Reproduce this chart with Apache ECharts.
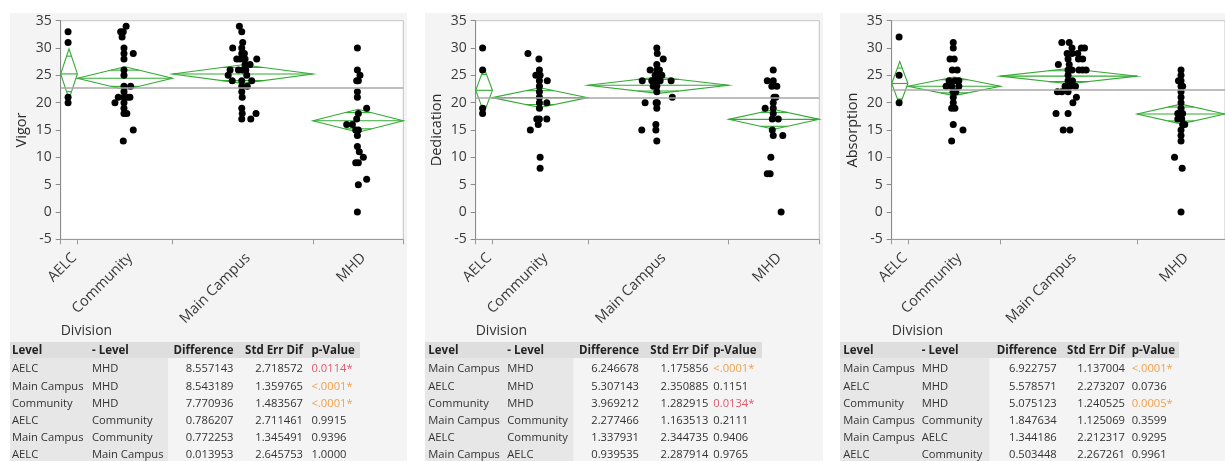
<!DOCTYPE html>
<html>
<head>
<meta charset="utf-8">
<script src="https://cdn.jsdelivr.net/npm/echarts@6/dist/echarts.min.js"></script>
<style>
html, body { margin: 0; padding: 0; background: #fff; }
#chart { width: 1225px; height: 461px; }
</style>
</head>
<body>
<div id="chart"></div>
<script>
// groups (x axis widths are proportional to group size, as in JMP)
var divisions = ['AELC', 'Community', 'Main Campus', 'MHD'];
var groupN = [7, 40, 59, 38];

// Vigor: means, 95% CI half widths, grand mean, points [group, jitter, value]
var vigorMeans = [25.26, 24.47, 25.24, 16.70];
var vigorCI = [4.6, 2.1, 1.7, 2.1];
var vigorGrandMean = 22.75;
var vigorPoints = [
  [0,-0.4,33],[0,-0.4,31],[0,-0.4,21],[0,-0.4,20],
  [1,0.5,34],[1,-1.8,33],[1,-0.7,33],[1,-1.2,32],[1,-0.4,30],[1,-0.4,29],[1,3.5,29],[1,-0.4,28],
  [1,-0.4,26],[1,-0.4,25],[1,-0.4,23],[1,2.4,23],[1,-0.4,22],[1,-2.8,21],[1,-0.4,21],[1,1,21],
  [1,2.1,21],[1,-4.2,20],[1,-0.4,20],[1,-0.4,19],[1,-0.4,18],[1,0.8,18],[1,3.5,15],[1,-0.7,13],
  [2,-1.4,34],[2,-0.4,33],[2,0,31],[2,-4.2,30],[2,-0.4,30],[2,-0.4,29],[2,0.7,29],[2,-2.5,28],
  [2,-1.1,28],[2,1,28],[2,5.9,28],[2,1,27],[2,3.1,27],[2,-5.3,26],[2,-1.8,26],[2,0,26],[2,1.3,26],
  [2,-6.1,25],[2,1.7,25],[2,-4.4,24],[2,-0.4,24],[2,3.8,24],[2,-0.4,23],[2,1.9,23],[2,-0.4,22],
  [2,-0.2,21],[2,-0.4,19],[2,-0.2,18],[2,5.6,18],[2,-0.4,17],[2,3.4,17],
  [3,-0.3,30],[3,-0.3,26],[3,0.8,25],[3,-0.6,24],[3,0.1,24],[3,-0.3,22],[3,-0.3,21],[3,3.6,19],
  [3,0.1,18],[3,-0.6,17],[3,-4.8,16],[3,-2.4,16],[3,-1,15],[3,0.1,15],[3,-0.3,14],[3,-0.3,12],
  [3,0.5,11],[3,2.2,10],[3,-1,9],[3,0.1,9],[3,3.6,6],[3,0.1,5],[3,-0.3,0]
];

// Dedication
var dedicationMeans = [22.26, 20.92, 23.20, 16.95];
var dedicationCI = [4.1, 1.8, 1.5, 1.8];
var dedicationGrandMean = 20.88;
var dedicationPoints = [
  [0,-0.6,30],[0,-0.6,26],[0,-0.6,19],[0,-0.6,18],
  [1,-5.1,29],[1,-0.5,28],[1,-0.3,26],[1,-1.8,25],[1,0,25],[1,-0.3,24],[1,3,24],[1,-0.3,23],
  [1,-0.3,22],[1,-0.3,21],[1,-0.3,20],[1,2.8,20],[1,-0.3,19],[1,-1.4,17],[1,-0.3,17],[1,2.8,17],
  [1,-0.8,16],[1,-4.1,15],[1,0,10],[1,0,8],
  [2,-0.6,30],[2,-0.4,29],[2,2.1,28],[2,-0.6,27],[2,-3.4,26],[2,-0.6,26],[2,0.5,26],[2,-1.3,25],
  [2,0.8,25],[2,1.5,25],[2,-6.7,24],[2,-2.7,24],[2,-0.9,24],[2,0.8,24],[2,5.4,24],[2,-2.1,23],
  [2,-0.6,23],[2,-0.6,22],[2,5.9,21],[2,-5.5,20],[2,-0.9,20],[2,-0.4,20],[2,-0.6,19],[2,-1,16],
  [2,-6.9,15],[2,-1,15],[2,-0.6,13],
  [3,-0.3,26],[3,-2.8,24],[3,-0.3,24],[3,-0.9,23],[3,1.2,23],[3,0,21],[3,0.8,21],[3,-0.3,20],
  [3,-3.7,19],[3,-0.3,19],[3,-0.3,18],[3,-0.7,17],[3,1.8,17],[3,-0.7,15],[3,-0.3,14],[3,3.7,14],
  [3,-1.3,10],[3,-2.8,7],[3,-1.6,7],[3,3,0]
];

// Absorption
var absorptionMeans = [23.51, 23.00, 24.85, 17.93];
var absorptionCI = [4.0, 1.7, 1.4, 1.8];
var absorptionGrandMean = 22.45;
var absorptionPoints = [
  [0,-0.3,32],[0,-0.3,25],[0,-0.3,20],
  [1,-0.4,31],[1,-0.4,30],[1,-1.8,28],[1,0,28],[1,-0.8,26],[1,1.3,26],[1,-2.2,24],[1,0.3,24],
  [1,2,24],[1,-3.5,23],[1,-1.1,23],[1,2,23],[1,-0.5,22],[1,0.7,22],[1,-0.4,21],[1,-0.4,20],
  [1,-1.1,19],[1,0.3,19],[1,-0.4,16],[1,3.8,15],[1,-1.1,13],
  [2,-3,31],[2,0.2,31],[2,1.4,30],[2,5.4,30],[2,6.8,30],[2,-0.7,29],[2,1.4,29],[2,3.9,29],
  [2,-0.3,28],[2,4.2,28],[2,6,28],[2,-4.5,27],[2,0.2,27],[2,-0.3,26],[2,1.4,26],[2,4.4,26],
  [2,6,26],[2,7.5,26],[2,-0.3,25],[2,-0.3,24],[2,1.6,24],[2,-1.6,23],[2,0.5,23],[2,2.9,23],
  [2,-4.9,22],[2,-3,22],[2,-0.3,22],[2,3.3,21],[2,1.8,20],[2,-5.5,18],[2,-0.3,18],[2,-2.4,15],[2,0.5,15],
  [3,0,26],[3,0,25],[3,-1.1,24],[3,0,24],[3,0,23],[3,0.7,23],[3,0,22],[3,0,21],[3,0,20],[3,0,19],
  [3,-1.4,18],[3,0,18],[3,0.7,18],[3,-1.4,17],[3,0.3,17],[3,0.7,16],[3,1.6,16],[3,0,15],[3,0,14],
  [3,0,13],[3,-2.8,10],[3,0.5,8],[3,0,0]
];

// Tukey tables
var vigorLevel = ['AELC', 'Main Campus', 'Community', 'AELC', 'Main Campus', 'AELC'];
var vigorMinus = ['MHD', 'MHD', 'MHD', 'Community', 'Community', 'Main Campus'];
var vigorDiff = ['8.557143', '8.543189', '7.770936', '0.786207', '0.772253', '0.013953'];
var vigorSE = ['2.718572', '1.359765', '1.483567', '2.711461', '1.345491', '2.645753'];
var vigorP = ['0.0114*', '<.0001*', '<.0001*', '0.9915', '0.9396', '1.0000'];

var dedicationLevel = ['Main Campus', 'AELC', 'Community', 'Main Campus', 'AELC', 'Main Campus'];
var dedicationMinus = ['MHD', 'MHD', 'MHD', 'Community', 'Community', 'AELC'];
var dedicationDiff = ['6.246678', '5.307143', '3.969212', '2.277466', '1.337931', '0.939535'];
var dedicationSE = ['1.175856', '2.350885', '1.282915', '1.163513', '2.344735', '2.287914'];
var dedicationP = ['<.0001*', '0.1151', '0.0134*', '0.2111', '0.9406', '0.9765'];

var absorptionLevel = ['Main Campus', 'AELC', 'Community', 'Main Campus', 'Main Campus', 'AELC'];
var absorptionMinus = ['MHD', 'MHD', 'MHD', 'Community', 'AELC', 'Community'];
var absorptionDiff = ['6.922757', '5.578571', '5.075123', '1.847634', '1.344186', '0.503448'];
var absorptionSE = ['1.137004', '2.273207', '1.240525', '1.125069', '2.212317', '2.267261'];
var absorptionP = ['<.0001*', '0.0736', '0.0005*', '0.3599', '0.9295', '0.9961'];

var tableHeader = ['Level', '- Level', 'Difference', 'Std Err Dif', 'p-Value'];

var FONT = '"Open Sans", "Noto Sans", sans-serif';
var diamondColor = '#33aa33';

var panels = [
  { name: 'Vigor', means: vigorMeans, ci: vigorCI, grand: vigorGrandMean, points: vigorPoints,
    level: vigorLevel, minus: vigorMinus, diff: vigorDiff, se: vigorSE, p: vigorP,
    gridLeft: 60.7, gridWidth: 342.6, bgLeft: 10, bgWidth: 397,
    col: { level: 12, minus: 92, diffR: 233.5, seR: 303, pL: 311.5, headR: 360, levelR: 168 } },
  { name: 'Dedication', means: dedicationMeans, ci: dedicationCI, grand: dedicationGrandMean, points: dedicationPoints,
    level: dedicationLevel, minus: dedicationMinus, diff: dedicationDiff, se: dedicationSE, p: dedicationP,
    gridLeft: 475.7, gridWidth: 343.6, bgLeft: 425, bgWidth: 398,
    col: { level: 428.3, minus: 507.3, diffR: 639, seR: 708.3, pL: 713.3, headR: 762, levelR: 573.3 } },
  { name: 'Absorption', means: absorptionMeans, ci: absorptionCI, grand: absorptionGrandMean, points: absorptionPoints,
    level: absorptionLevel, minus: absorptionMinus, diff: absorptionDiff, se: absorptionSE, p: absorptionP,
    gridLeft: 891.7, gridWidth: 343, bgLeft: 840, bgWidth: 385,
    col: { level: 843.3, minus: 921.7, diffR: 1056.7, seR: 1125, pL: 1131.7, headR: 1179, levelR: 989.3 } }
];

var starts = [];
var total = 0;
groupN.forEach(function (n) { starts.push(total); total += n; });
var bounds = starts.concat([total]);
var centers = groupN.map(function (n, i) { return starts[i] + n / 2; });

function pColor(p) {
  var v = p.charAt(0) === '<' ? 0 : parseFloat(p);
  if (v < 0.01) return '#f0a04b';
  if (v < 0.05) return '#e2566e';
  return '#333';
}

function renderDiamond(params, api) {
  var x0 = api.value(0), x1 = api.value(1), m = api.value(2), ci = api.value(3);
  var xc = (x0 + x1) / 2;
  var L = api.coord([x0, m]), R = api.coord([x1, m]);
  var T = api.coord([xc, m + ci]), B = api.coord([xc, m - ci]);
  var h = ci / Math.SQRT2;
  var ow = (x1 - x0) / 2 * (1 - 1 / Math.SQRT2);
  var u1 = api.coord([xc - ow, m + h]), u2 = api.coord([xc + ow, m + h]);
  var d1 = api.coord([xc - ow, m - h]), d2 = api.coord([xc + ow, m - h]);
  var st = { stroke: diamondColor, fill: null, lineWidth: 1.1 };
  return {
    type: 'group',
    children: [
      { type: 'polygon', shape: { points: [L, T, R, B] }, style: st },
      { type: 'line', shape: { x1: L[0], y1: L[1], x2: R[0], y2: R[1] }, style: st },
      { type: 'line', shape: { x1: u1[0], y1: u1[1], x2: u2[0], y2: u2[1] }, style: st },
      { type: 'line', shape: { x1: d1[0], y1: d1[1], x2: d2[0], y2: d2[1] }, style: st }
    ]
  };
}

var grids = [], xAxes = [], yAxes = [], series = [], graphics = [];

panels.forEach(function (pn, i) {
  grids.push({
    left: pn.gridLeft, top: 20.7, width: pn.gridWidth, height: 218.6,
    show: true, backgroundColor: '#fff', borderColor: '#c4c4c4', borderWidth: 1
  });
  xAxes.push({
    type: 'value', gridIndex: i, min: 0, max: total,
    splitLine: { show: false },
    axisLine: { show: true, onZero: false, lineStyle: { color: '#9a9a9a', width: 1 } },
    axisTick: { show: true, customValues: bounds, length: 5, lineStyle: { color: '#9a9a9a' } },
    axisLabel: {
      customValues: centers, rotate: 45, margin: 11, verticalAlign: 'top',
      fontSize: 14.5, fontFamily: FONT, color: '#3a3a3a',
      formatter: function (v) {
        for (var k = 0; k < centers.length; k++) if (Math.abs(centers[k] - v) < 1e-6) return divisions[k];
        return '';
      }
    }
  });
  yAxes.push({
    type: 'value', gridIndex: i, min: -5, max: 35, interval: 5,
    name: pn.name, nameLocation: 'middle', nameGap: 31, nameRotate: 90,
    nameTextStyle: { fontSize: 14.5, fontFamily: FONT, color: '#2a2a2a' },
    splitLine: { show: false },
    axisLine: { show: true, onZero: false, lineStyle: { color: '#8a8a8a', width: 1 } },
    axisTick: { show: true, length: 5, lineStyle: { color: '#8a8a8a' } },
    axisLabel: { fontSize: 14, fontFamily: FONT, color: '#3a3a3a', margin: 9 }
  });
  series.push({
    type: 'custom', xAxisIndex: i, yAxisIndex: i, renderItem: renderDiamond, silent: true, z: 3,
    encode: { x: [0, 1], y: [2] },
    data: pn.means.map(function (m, g) { return [starts[g], starts[g] + groupN[g], m, pn.ci[g]]; }),
    markLine: {
      silent: true, symbol: ['none', 'none'], label: { show: false },
      lineStyle: { color: '#a8a8a8', width: 1.6, type: 'solid' },
      data: [{ yAxis: pn.grand }]
    }
  });
  series.push({
    type: 'scatter', xAxisIndex: i, yAxisIndex: i, symbolSize: 7, z: 4, silent: true,
    itemStyle: { color: '#000', opacity: 1 },
    data: pn.points.map(function (p) { return [centers[p[0]] + p[1], p[2]]; })
  });

  // panel background
  graphics.push({ type: 'rect', z: -100, shape: { x: pn.bgLeft, y: 13, width: pn.bgWidth, height: 461 }, style: { fill: '#f4f4f4' } });
  graphics.push({ type: 'text', z: 10, x: pn.gridLeft, y: 331,
    style: { text: 'Division', font: '14px ' + FONT, fill: '#333', textVerticalAlign: 'middle' } });

  // table
  var c = pn.col;
  var headY = 350.5, rowY0 = 369.3, rowStep = 17.15;
  graphics.push({ type: 'rect', z: -50, shape: { x: pn.bgLeft, y: 342, width: c.headR - pn.bgLeft, height: 16 }, style: { fill: '#dedede' } });
  graphics.push({ type: 'rect', z: -50, shape: { x: pn.bgLeft, y: 358, width: c.levelR - pn.bgLeft, height: 110 }, style: { fill: '#e7e7e7' } });
  var hx = [c.level, c.minus, c.diffR, c.seR, c.pL];
  var ha = ['left', 'left', 'right', 'right', 'left'];
  tableHeader.forEach(function (t, k) {
    graphics.push({ type: 'text', z: 10, x: hx[k], y: headY,
      style: { text: t, font: 'bold 11.5px ' + FONT, fill: '#222', textAlign: ha[k], textVerticalAlign: 'middle' } });
  });
  pn.level.forEach(function (lv, r) {
    var y = rowY0 + r * rowStep;
    var cells = [lv, pn.minus[r], pn.diff[r], pn.se[r], pn.p[r]];
    cells.forEach(function (t, k) {
      graphics.push({ type: 'text', z: 10, x: hx[k], y: y,
        style: { text: t, font: '11.2px ' + FONT, fill: k === 4 ? pColor(t) : '#333', textAlign: ha[k], textVerticalAlign: 'middle' } });
    });
  });
});

var chart = echarts.init(document.getElementById('chart'), null, { renderer: 'canvas' });
chart.setOption({
  animation: false,
  backgroundColor: '#fff',
  grid: grids,
  xAxis: xAxes,
  yAxis: yAxes,
  series: series,
  graphic: { elements: graphics }
});
</script>
</body>
</html>
